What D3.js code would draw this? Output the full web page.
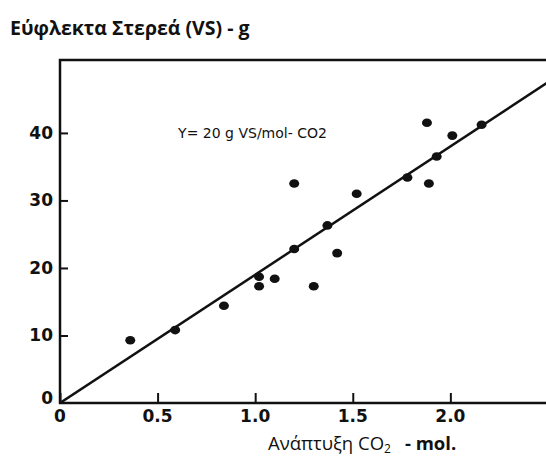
<!DOCTYPE html>
<html>
<head>
<meta charset="utf-8">
<script src="https://cdn.jsdelivr.net/npm/d3@7"></script>
<style>
  body { margin: 0; background: #fff; }
</style>
</head>
<body>
<svg class="chart"></svg>
<script>
// Data: CO2 evolved (mol) vs volatile solids (g)
var co2 = [0.36, 0.59, 0.84, 1.02, 1.02, 1.10, 1.20, 1.20, 1.30, 1.37, 1.42, 1.52, 1.78, 1.88, 1.89, 1.93, 2.01, 2.16];
var vs  = [9.3, 10.8, 14.4, 18.7, 17.3, 18.4, 22.8, 32.5, 17.3, 26.3, 22.2, 31.0, 33.4, 41.5, 32.5, 36.5, 39.6, 41.2];
var xTicks = [0, 0.5, 1.0, 1.5, 2.0];
var xTickLabels = ["0", "0.5", "1.0", "1.5", "2.0"];
var yTicks = [0, 10, 20, 30, 40];
var fitSlope = 19; // fitted line, passes through origin
var fitRange = [0, 2.6];

var w = 546,
    h = 457;

var svg = d3.select(".chart")
    .attr("width", w)
    .attr("height", h);

var margin = { top: 60, right: 0, bottom: 54, left: 60 },
    width = w - margin.left - margin.right,
    height = h - margin.top - margin.bottom,
    g = svg.append("g").attr("transform", "translate(" + margin.left + "," + margin.top + ")");

var xScale = d3.scaleLinear()
    .domain([0, 2.49])
    .range([0, width]);

var yScale = d3.scaleLinear()
    .domain([0, 50.8])
    .range([height, 0]);

g.append("clipPath").attr("id", "clip")
    .append("rect")
    .attr("width", width)
    .attr("height", height);

// frame: left, bottom and top
g.append("path")
    .attr("d", "M" + width + ",0H0V" + height + "H" + width)
    .attr("fill", "none")
    .attr("stroke", "#111")
    .attr("stroke-width", 2.5);

// ticks pointing inwards
var xAxis = d3.axisTop(xScale)
    .tickValues(xTicks)
    .tickSize(10)
    .tickFormat("");
g.append("g")
    .attr("transform", "translate(0," + height + ")")
    .call(xAxis)
    .call(function(s) { s.select(".domain").remove(); })
    .selectAll("line")
    .attr("stroke", "#111")
    .attr("stroke-width", 2);

var yAxis = d3.axisRight(yScale)
    .tickValues(yTicks.slice(1))
    .tickSize(8)
    .tickFormat("");
g.append("g")
    .call(yAxis)
    .call(function(s) { s.select(".domain").remove(); })
    .selectAll("line")
    .attr("stroke", "#111")
    .attr("stroke-width", 2);

// tick labels
g.selectAll(".xlab")
    .data(xTicks)
    .enter().append("text")
    .attr("x", function(d) { return xScale(d); })
    .attr("y", height + 19)
    .attr("text-anchor", "middle")
    .attr("font-family", "DejaVu Sans")
    .attr("font-weight", "bold")
    .attr("font-size", "17px")
    .attr("fill", "#111")
    .text(function(d, i) { return xTickLabels[i]; });

g.selectAll(".ylab")
    .data(yTicks)
    .enter().append("text")
    .attr("x", -7)
    .attr("y", function(d) { return yScale(d); })
    .attr("dy", d => d === 0 ? "0.05em" : "0.35em")
    .attr("text-anchor", "end")
    .attr("font-family", "DejaVu Sans")
    .attr("font-weight", "bold")
    .attr("font-size", "17px")
    .attr("fill", "#111")
    .text(function(d) { return d; });

// fitted line
var line = d3.line()
    .x(function(d) { return xScale(d); })
    .y(function(d) { return yScale(d * fitSlope); });

g.append("path")
    .datum(fitRange)
    .attr("clip-path", "url(#clip)")
    .attr("fill", "none")
    .attr("stroke", "#111")
    .attr("stroke-width", 2.5)
    .attr("d", line);

// points
g.selectAll(".pt")
    .data(co2)
    .enter().append("ellipse")
    .attr("cx", function(d) { return xScale(d); })
    .attr("cy", function(d, i) { return yScale(vs[i]); })
    .attr("rx", 5)
    .attr("ry", 4.3)
    .attr("fill", "#111");

// annotation
g.append("text")
    .attr("x", xScale(0.605))
    .attr("y", yScale(40) + 5)
    .attr("font-family", "DejaVu Sans")
    .attr("font-size", "14px")
    .attr("fill", "#111")
    .text("Y= 20 g VS/mol- CO2");

// titles
svg.append("text")
    .attr("x", 10)
    .attr("y", 35)
    .attr("font-family", "Open Sans")
    .attr("font-weight", "bold")
    .attr("font-size", "19.5px")
    .attr("fill", "#111")
    .text("Εύφλεκτα Στερεά (VS) - g");

var xl = svg.append("text")
    .attr("x", 268)
    .attr("y", 450)
    .attr("font-family", "Open Sans")
    .attr("font-size", "18.5px")
    .attr("fill", "#111");
xl.append("tspan").text("Ανάπτυξη CO");
xl.append("tspan").attr("font-size", "12px").attr("dy", 3).text("2");
xl.append("tspan").attr("dy", -3).attr("dx", 14).attr("font-weight", "bold").text("- mol.");
</script>
</body>
</html>
